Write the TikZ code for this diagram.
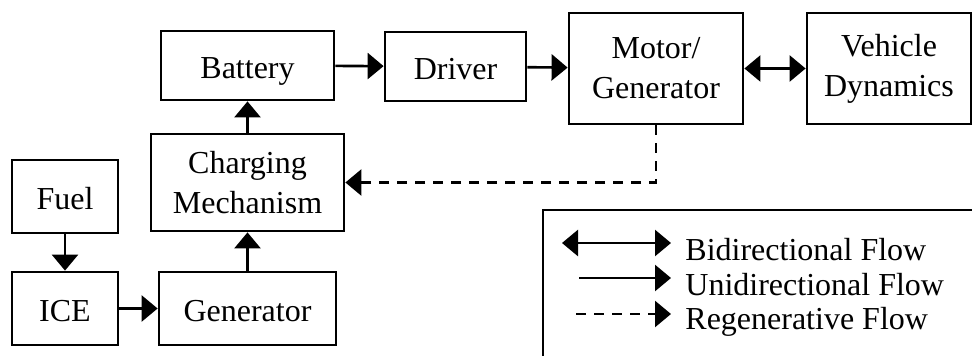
\documentclass[tikz,border=0pt]{standalone}
\usepackage{fontspec}
\setmainfont{Liberation Serif}
\usepackage{tikz}
\usetikzlibrary{arrows.meta,positioning}
\tikzset{
    block/.style={
    rectangle,draw=black,line width=1.4pt,align=center,inner sep=0pt,
    font=\fontsize{16}{20}\selectfont
    },
    sblock/.style={
    block,text height=13.5pt,text depth=0pt
    },
    flow/.style={
    line width=1.3pt,-{Triangle[length=8pt,width=13pt]}
    },
    biflow/.style={
    line width=1.3pt,{Triangle[length=8pt,width=13pt]}-{Triangle[length=8pt,width=13pt]}
    },
    regen/.style={
    line width=1.3pt,dash pattern=on 5pt off 4pt,-{Triangle[length=8pt,width=13pt]}
    },
    legtext/.style={
    anchor=base west,inner sep=0pt,font=\fontsize{16}{20}\selectfont
    },
}
\begin{document}
\begin{tikzpicture}[x=0.5pt,y=-0.5pt]
   \useasboundingbox (0,0) rectangle (972,356);
   \node[sblock,minimum width=86.5pt,minimum height=34.5pt] (bat) at (247.5,65.5) {Battery};
   \node[sblock,minimum width=70.5pt,minimum height=34.5pt] (drv) at (455.5,66.5) {Driver};
   \node[block,minimum width=87pt,minimum height=55.5pt] (mot) at (656,68.5) {Motor/\\Generator};
   \node[block,minimum width=82pt,minimum height=55.5pt] (veh) at (889,68.5) {Vehicle\\Dynamics};
   \node[block,minimum width=96.5pt,minimum height=48.5pt] (chg) at (247.5,182.5) {Charging\\Mechanism};
   \node[sblock,minimum width=53pt,minimum height=36.5pt] (fuel) at (65,196.5) {Fuel};
   \node[sblock,minimum width=53pt,minimum height=36.5pt] (ice) at (65,308.5) {ICE};
   \node[sblock,minimum width=88.5pt,minimum height=36.5pt] (gen) at (247.5,308.5) {Generator};

  \path[flow]
    (bat) edge (drv)
    (drv) edge (mot)
    (chg) edge (bat)
    (gen) edge (chg)
    (fuel) edge (ice)
    (ice) edge (gen);
  \path[biflow] (mot) edge (veh);
  \draw[regen] (mot.south) |- (chg.east);

  % legend
  \coordinate (lg1) at (543,356);
  \coordinate (lg2) at (543,210);
  \coordinate (lg3) at (975,210);
  \draw[line width=1.4pt] (lg1) -- (lg2) -- (lg3);
  \coordinate (b1) at (562,243);
  \coordinate (b2) at (671,243);
  \coordinate (u1) at (579,278);
  \coordinate (u2) at (671,278);
  \coordinate (r1) at (576,314);
  \coordinate (r2) at (671,314);
  \draw[biflow] (b1) -- (b2);
  \draw[flow] (u1) -- (u2);
  \draw[regen] (r1) -- (r2);
  \node[legtext] (tb) at (685,261) {Bidirectional Flow};
  \node[legtext] (tu) at (685,296) {Unidirectional Flow};
  \node[legtext] (tr) at (685,330) {Regenerative Flow};
\end{tikzpicture}
\end{document}
